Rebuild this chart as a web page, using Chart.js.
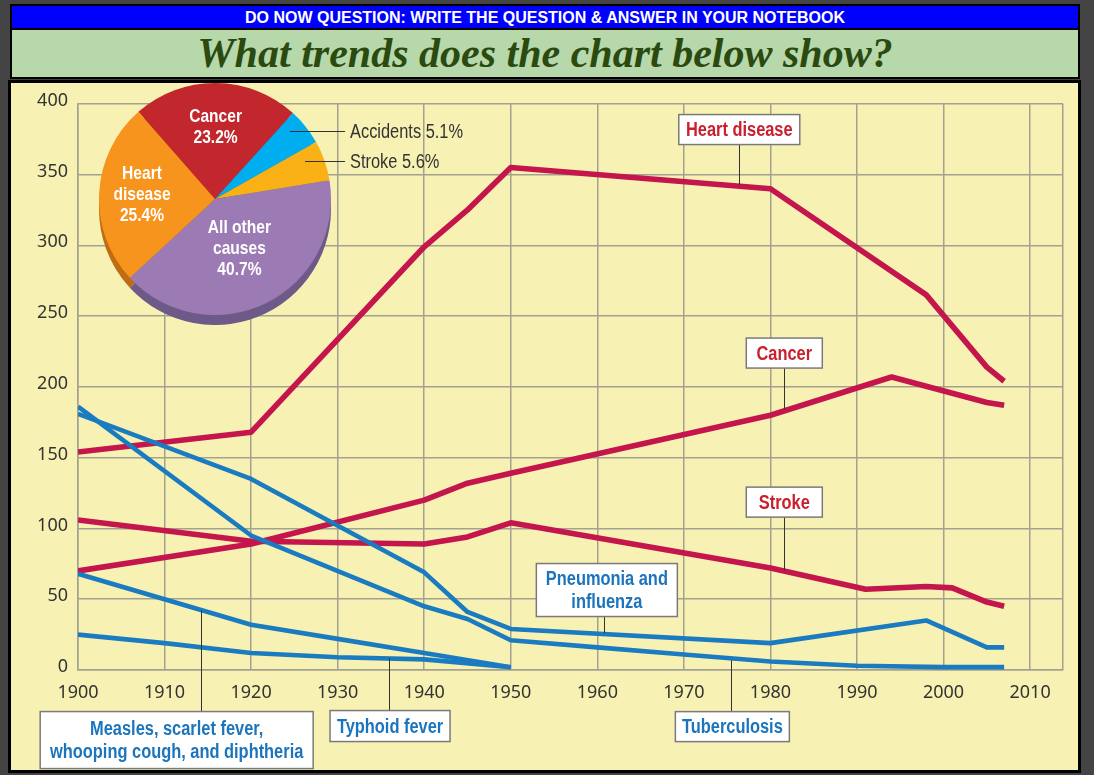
<!DOCTYPE html>
<html><head><meta charset="utf-8">
<script src="https://cdn.jsdelivr.net/npm/chart.js@4.4.3/dist/chart.umd.min.js"></script>
<style>
body{margin:0;background:#444;width:1094px;height:775px;overflow:hidden;position:relative}
#top{position:absolute;left:10px;top:4px;width:1066px;height:71px;border:2px solid #000;background:#b6d8aa}
#ask{height:22px;background:#0000ff;border-bottom:2px solid #000;color:#fff;font:bold 16px 'Liberation Sans',Arial,sans-serif;text-align:center;line-height:23px}
#title{height:47px;text-align:center;color:#2b4a10;font:italic bold 42px 'Liberation Serif','DejaVu Serif',serif;line-height:47px}
#panel{position:absolute;left:8px;top:80px;width:1067px;height:687px;border:3px solid #000;background:#f7f2b3}
canvas{position:absolute}
</style></head>
<body>
<div id="top">
  <div id="ask">DO NOW QUESTION: WRITE THE QUESTION &amp; ANSWER IN YOUR NOTEBOOK</div>
  <div id="title">What trends does the chart below show?</div>
</div>
<div id="panel">
  <canvas id="rates" width="1067" height="687" style="left:0;top:0"></canvas>
  <canvas id="pieShadow" width="232" height="232" style="left:88px;top:10px"></canvas>
  <canvas id="pie" width="400" height="232" style="left:88px;top:0"></canvas>
</div>
<script>
// death rates per 100,000
const yearTicks = [1900, 1910, 1920, 1930, 1940, 1950, 1960, 1970, 1980, 1990, 2000, 2010]

const heartYears = [1900, 1920, 1940, 1945, 1950, 1980, 1998, 2005, 2007]
const heartRates = [154, 168, 299, 325, 355, 340, 265, 214, 204]
const cancerYears = [1900, 1920, 1940, 1945, 1950, 1980, 1994, 2005, 2007]
const cancerRates = [70, 89, 120, 132, 139, 180, 207, 189, 187]
const strokeYears = [1900, 1920, 1940, 1945, 1950, 1980, 1991, 1998, 2001, 2005, 2007]
const strokeRates = [106, 91, 89, 94, 104, 72, 57, 59, 58, 48, 45]
const pneumoniaYears = [1900, 1920, 1940, 1945, 1950, 1980, 1998, 2005, 2007]
const pneumoniaRates = [181, 135, 69, 41, 29, 19, 35, 16, 16]
const tbYears = [1900, 1920, 1940, 1945, 1950, 1960, 1970, 1980, 1990, 2000, 2007]
const tbRates = [186, 95, 45, 36, 21, 16, 11, 6, 3, 2, 2]
const measlesYears = [1900, 1910, 1920, 1930, 1940, 1950]
const measlesRates = [68, 50, 32, 22, 12, 2]
const typhoidYears = [1900, 1910, 1920, 1930, 1940, 1950]
const typhoidRates = [25, 19, 12, 9, 7.5, 2]

// share of deaths (pie)
const pieLabels = ['Cancer', 'Accidents', 'Stroke', 'All other causes', 'Heart disease']
const pieShares = [23.2, 5.1, 5.6, 40.7, 25.4]

const RED = '#c4154c', BLUE = '#1b7bc1'
const RED_TXT = '#c8202e', BLUE_TXT = '#1c75bc'
const GRID = '#a3a290'
const SANS = "'Liberation Sans',Arial,sans-serif"
const SQUEEZE = 0.82   // no condensed face installed, so squeeze the text

function narrowText(ctx, t, x, y) {
  ctx.fillText(t, x, y, ctx.measureText(t).width * SQUEEZE)
}

function pts(xs, ys) { return xs.map((x, i) => ({x: x, y: ys[i]})) }
function series(label, xs, ys, color, width) {
  return {label: label, data: pts(xs, ys), borderColor: color, borderWidth: width,
    pointRadius: 0, tension: 0, fill: false, borderJoinStyle: 'round'}
}

// boxed labels with leader lines, placed in data units
const notes = [
  {text: ['Heart disease'], color: RED_TXT, at: [1976.4, 381.8], w: 121, h: 30, to: [1976.4, 342.5]},
  {text: ['Cancer'], color: RED_TXT, at: [1981.6, 223.9], w: 76, h: 30, to: [1981.6, 184]},
  {text: ['Stroke'], color: RED_TXT, at: [1981.6, 118.6], w: 76, h: 30, to: [1981.6, 70.5]},
  {text: ['Pneumonia and', 'influenza'], color: BLUE_TXT, at: [1961.1, 56.5], w: 141, h: 53, to: [1960.8, 26]},
  {text: ['Tuberculosis'], color: BLUE_TXT, at: [1975.6, -40], w: 114, h: 30, to: [1975.5, 7]},
  {text: ['Typhoid fever'], color: BLUE_TXT, at: [1936.05, -39.6], w: 120, h: 31, to: [1935.9, 8.4]},
  {text: ['Measles, scarlet fever,', 'whooping cough, and diphtheria'], color: BLUE_TXT, at: [1911.4, -49.5], w: 273, h: 57, to: [1914.2, 42]}
]

const calloutPlugin = {
  id: 'callouts',
  afterDatasetsDraw(chart) {
    const ctx = chart.ctx, x = chart.scales.x, y = chart.scales.y
    ctx.save()
    notes.forEach(n => {
      const cx = x.getPixelForValue(n.at[0]), cy = y.getPixelForValue(n.at[1])
      const lx = Math.round(x.getPixelForValue(n.to[0])) + 0.5, ly = y.getPixelForValue(n.to[1])
      const top = cy - n.h / 2, bot = cy + n.h / 2
      ctx.strokeStyle = '#333'; ctx.lineWidth = 1
      ctx.beginPath(); ctx.moveTo(lx, ly < top ? top : bot); ctx.lineTo(lx, ly); ctx.stroke()
      ctx.fillStyle = '#fff'; ctx.fillRect(cx - n.w / 2, top, n.w, n.h)
      ctx.strokeStyle = '#7a7a7a'; ctx.lineWidth = 1.5; ctx.strokeRect(cx - n.w / 2, top, n.w, n.h)
      ctx.fillStyle = n.color; ctx.font = 'bold 20px ' + SANS
      ctx.textAlign = 'center'; ctx.textBaseline = 'middle'
      n.text.forEach((t, i) => narrowText(ctx, t, cx, cy + 1 + (i - (n.text.length - 1) / 2) * 22.5))
    })
    ctx.restore()
  }
}

new Chart(document.getElementById('rates'), {
  type: 'line',
  data: {datasets: [
    series('Measles, scarlet fever, whooping cough, and diphtheria', measlesYears, measlesRates, BLUE, 4.6),
    series('Typhoid fever', typhoidYears, typhoidRates, BLUE, 4.6),
    series('Tuberculosis', tbYears, tbRates, BLUE, 4.6),
    series('Pneumonia and influenza', pneumoniaYears, pneumoniaRates, BLUE, 4.6),
    series('Stroke', strokeYears, strokeRates, RED, 5.6),
    series('Cancer', cancerYears, cancerRates, RED, 5.6),
    series('Heart disease', heartYears, heartRates, RED, 5.6)
  ]},
  options: {
    responsive: false, animation: false,
    layout: {padding: {top: 17, right: 15, left: 0, bottom: 0}},
    plugins: {legend: {display: false}, tooltip: {enabled: false}},
    scales: {
      x: {
        type: 'linear', min: 1900, max: 2013.8,
        afterBuildTicks: s => { s.ticks = yearTicks.concat([2013.8]).map(v => ({value: v})) },
        afterFit: s => { s.height = 100 },
        grid: {color: GRID, lineWidth: 1.5, drawTicks: false},
        border: {color: GRID, width: 1.5},
        ticks: {autoSkip: false, maxRotation: 0, padding: 12, color: '#333',
          font: {family: 'Noto Sans', size: 18},
          callback: v => yearTicks.includes(v) ? String(v) : ''}
      },
      y: {
        min: 0, max: 400,
        afterFit: s => { s.width = 67 },
        grid: {color: GRID, lineWidth: 1.5, drawTicks: false},
        border: {color: GRID, width: 1.5},
        ticks: {stepSize: 50, padding: 10, labelOffset: -3, color: '#333', font: {family: 'Noto Sans', size: 18}}
      }
    }
  },
  plugins: [calloutPlugin]
})

// pie: labels inside the big slices, callouts for the two thin ones
const inside = [
  {lines: ['Cancer', '23.2%'], f: 0.62},
  null, null,
  {lines: ['All other', 'causes', '40.7%'], f: 0.48},
  {lines: ['Heart', 'disease', '25.4%'], f: 0.63}
]
const outside = [null,
  {text: 'Accidents 5.1%', from: [191, 48], to: [246, 48]},
  {text: 'Stroke 5.6%', from: [206, 78], to: [246, 78]},
  null, null]

const pieText = {
  id: 'pieText',
  afterDatasetsDraw(chart) {
    const ctx = chart.ctx
    ctx.save()
    chart.getDatasetMeta(0).data.forEach((arc, i) => {
      const inn = inside[i], out = outside[i]
      if (inn) {
        const mid = (arc.startAngle + arc.endAngle) / 2
        const r = arc.outerRadius * inn.f
        const px = arc.x + Math.cos(mid) * r, py = arc.y + Math.sin(mid) * r
        ctx.fillStyle = '#fff'; ctx.font = 'bold 19px ' + SANS
        ctx.textAlign = 'center'; ctx.textBaseline = 'middle'
        inn.lines.forEach((t, k) => narrowText(ctx, t, px, py + (k - (inn.lines.length - 1) / 2) * 21))
      }
      if (out) {
        ctx.strokeStyle = '#333'; ctx.lineWidth = 1
        ctx.beginPath(); ctx.moveTo(out.from[0], out.from[1] + 0.5); ctx.lineTo(out.to[0], out.to[1] + 0.5); ctx.stroke()
        ctx.fillStyle = '#333'; ctx.font = '20px ' + SANS
        ctx.textAlign = 'left'; ctx.textBaseline = 'middle'
        narrowText(ctx, out.text, out.to[0] + 5, out.to[1] + 1)
      }
    })
    ctx.restore()
  }
}

function pieConfig(colors, padRight, extra) {
  return {
    type: 'pie',
    data: {labels: pieLabels, datasets: [{data: pieShares, backgroundColor: colors, borderWidth: 0}]},
    options: {
      responsive: false, animation: false, rotation: -41.3,
      layout: {padding: {right: padRight}},
      plugins: {legend: {display: false}, tooltip: {enabled: false}}
    },
    plugins: extra
  }
}
new Chart(document.getElementById('pieShadow'),
  pieConfig(['#8f1c22', '#0083b4', '#c0850f', '#6e5a88', '#bf6c12'], 0, []))
new Chart(document.getElementById('pie'),
  pieConfig(['#c1272d', '#00aeef', '#f9b116', '#9c7bb5', '#f7941d'], 168, [pieText]))
</script>
</body></html>
